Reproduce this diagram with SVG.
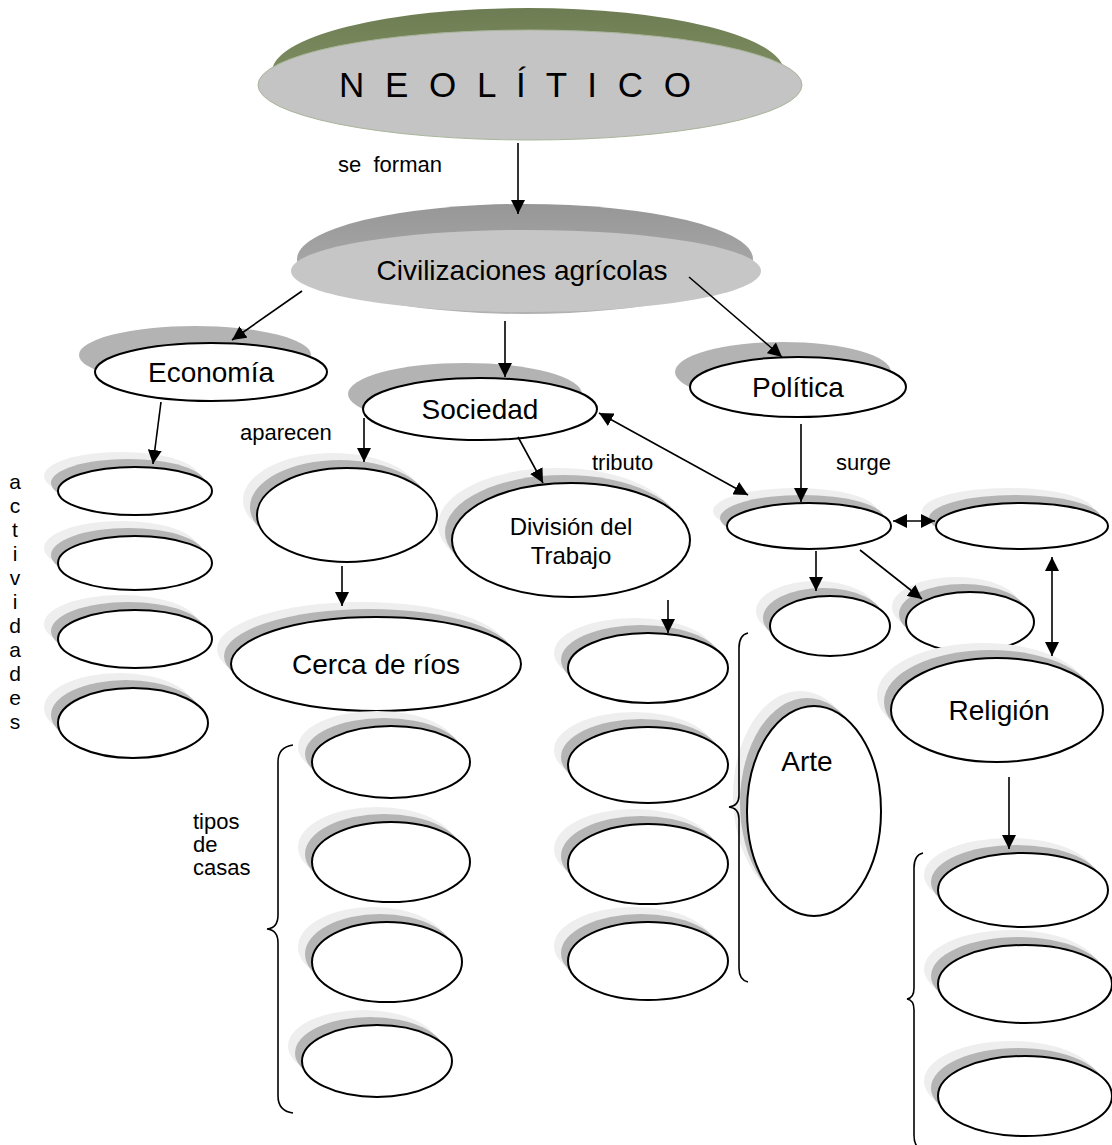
<svg xmlns="http://www.w3.org/2000/svg" width="1112" height="1145" viewBox="0 0 1112 1145">
<defs>
  <marker id="ah" viewBox="0 0 12 12" refX="12" refY="6" markerWidth="14" markerHeight="14" markerUnits="userSpaceOnUse" orient="auto-start-reverse">
    <path d="M0,0 L12,6 L0,12 z" fill="#000"/>
  </marker>
  <linearGradient id="gGreen" x1="0" y1="0" x2="0" y2="1">
    <stop offset="0" stop-color="#6d7c52"/>
    <stop offset="1" stop-color="#8e9d6e"/>
  </linearGradient>
  <linearGradient id="gGray" x1="0" y1="0" x2="0" y2="1">
    <stop offset="0" stop-color="#979797"/>
    <stop offset="1" stop-color="#b2b2b2"/>
  </linearGradient>
</defs>
<style>
  text{font-family:"Liberation Sans",Arial,sans-serif;fill:#000}
  .n{fill:#fff;stroke:#000;stroke-width:2}
  .sl{fill:#eeeeee}
  .sd{fill:#b5b5b5}
  .sh{fill:#b3b3b3}
  .t28{font-size:28px;text-anchor:middle}
  .lbl{font-size:22px}
  .act{font-size:21px;text-anchor:middle}
  #connectors line,#connectors path{stroke:#000;stroke-width:1.6;fill:none}
  .brace{stroke:#000;stroke-width:1.6;fill:none}
</style>

<g id="neolitico">
  <ellipse cx="528" cy="72" rx="256" ry="64" fill="url(#gGreen)"/>
  <ellipse cx="530" cy="85" rx="272" ry="55" fill="#c4c4c4" stroke="#a9b59a" stroke-width="1"/>
  <text x="515" y="97" font-size="35" text-anchor="middle" textLength="352" lengthAdjust="spacing">N E O L Í T I C O</text>
</g>

<g id="civilizaciones">
  <ellipse cx="525" cy="259" rx="228" ry="55" fill="url(#gGray)"/>
  <ellipse cx="526" cy="271" rx="235" ry="41" fill="#c6c6c6"/>
  <text x="522" y="280" class="t28">Civilizaciones agrícolas</text>
</g>

<g id="economia">
  <ellipse cx="195" cy="355" rx="116" ry="29" class="sh"/>
  <ellipse cx="211" cy="372" rx="116" ry="29" class="n"/>
  <text x="211" y="382" class="t28">Economía</text>
</g>
<g id="sociedad">
  <ellipse cx="465" cy="394" rx="117" ry="31" class="sh"/>
  <ellipse cx="480" cy="409" rx="117" ry="31" class="n"/>
  <text x="480" y="419" class="t28">Sociedad</text>
</g>
<g id="politica">
  <ellipse cx="783" cy="372" rx="108" ry="30" class="sh"/>
  <ellipse cx="798" cy="387" rx="108" ry="30" class="n"/>
  <text x="798" y="397" class="t28">Política</text>
</g>

<g id="act1"><ellipse cx="121" cy="476" rx="77" ry="24" class="sl"/><ellipse cx="128" cy="483" rx="77" ry="24" class="sd"/><ellipse cx="135" cy="491" rx="77" ry="24" class="n"/></g>
<g id="act2"><ellipse cx="121" cy="548" rx="77" ry="27" class="sl"/><ellipse cx="128" cy="555" rx="77" ry="27" class="sd"/><ellipse cx="135" cy="563" rx="77" ry="27" class="n"/></g>
<g id="act3"><ellipse cx="121" cy="624" rx="77" ry="29" class="sl"/><ellipse cx="128" cy="631" rx="77" ry="29" class="sd"/><ellipse cx="135" cy="639" rx="77" ry="29" class="n"/></g>
<g id="act4"><ellipse cx="119" cy="708" rx="75" ry="35" class="sl"/><ellipse cx="126" cy="715" rx="75" ry="35" class="sd"/><ellipse cx="133" cy="723" rx="75" ry="35" class="n"/></g>

<g id="aparecen-node"><ellipse cx="333" cy="500" rx="90" ry="47" class="sl"/><ellipse cx="340" cy="507" rx="90" ry="47" class="sd"/><ellipse cx="347" cy="515" rx="90" ry="47" class="n"/></g>
<g id="cerca">
  <ellipse cx="362" cy="649" rx="145" ry="47" class="sl"/><ellipse cx="369" cy="656" rx="145" ry="47" class="sd"/><ellipse cx="376" cy="664" rx="145" ry="47" class="n"/>
  <text x="376" y="674" class="t28">Cerca de ríos</text>
</g>
<g id="division">
  <ellipse cx="557" cy="525" rx="119" ry="57" class="sl"/><ellipse cx="564" cy="532" rx="119" ry="57" class="sd"/><ellipse cx="571" cy="540" rx="119" ry="57" class="n"/>
  <text x="571" y="535" font-size="24" text-anchor="middle">División del</text>
  <text x="571" y="564" font-size="24" text-anchor="middle">Trabajo</text>
</g>

<g id="trab1"><ellipse cx="634" cy="653" rx="80" ry="35" class="sl"/><ellipse cx="641" cy="660" rx="80" ry="35" class="sd"/><ellipse cx="648" cy="668" rx="80" ry="35" class="n"/></g>
<g id="trab2"><ellipse cx="634" cy="750" rx="80" ry="38" class="sl"/><ellipse cx="641" cy="757" rx="80" ry="38" class="sd"/><ellipse cx="648" cy="765" rx="80" ry="38" class="n"/></g>
<g id="trab3"><ellipse cx="634" cy="849" rx="80" ry="40" class="sl"/><ellipse cx="641" cy="856" rx="80" ry="40" class="sd"/><ellipse cx="648" cy="864" rx="80" ry="40" class="n"/></g>
<g id="trab4"><ellipse cx="634" cy="946" rx="80" ry="39" class="sl"/><ellipse cx="641" cy="953" rx="80" ry="39" class="sd"/><ellipse cx="648" cy="961" rx="80" ry="39" class="n"/></g>

<g id="arte">
  <ellipse cx="800" cy="796" rx="67" ry="105" class="sl"/><ellipse cx="807" cy="803" rx="67" ry="105" class="sd"/><ellipse cx="814" cy="811" rx="67" ry="105" class="n"/>
  <text x="807" y="771" class="t28">Arte</text>
</g>

<g id="surge-node"><ellipse cx="795" cy="511" rx="82" ry="23" class="sl"/><ellipse cx="802" cy="518" rx="82" ry="23" class="sd"/><ellipse cx="809" cy="526" rx="82" ry="23" class="n"/></g>
<g id="pol-right"><ellipse cx="1008" cy="511" rx="86" ry="23" class="sl"/><ellipse cx="1015" cy="518" rx="86" ry="23" class="sd"/><ellipse cx="1022" cy="526" rx="86" ry="23" class="n"/></g>
<g id="pol-sub1"><ellipse cx="816" cy="611" rx="60" ry="30" class="sl"/><ellipse cx="823" cy="618" rx="60" ry="30" class="sd"/><ellipse cx="830" cy="626" rx="60" ry="30" class="n"/></g>
<g id="pol-sub2"><ellipse cx="956" cy="607" rx="64" ry="30" class="sl"/><ellipse cx="963" cy="614" rx="64" ry="30" class="sd"/><ellipse cx="970" cy="622" rx="64" ry="30" class="n"/></g>

<g id="religion">
  <ellipse cx="983" cy="695" rx="106" ry="52" class="sl"/><ellipse cx="990" cy="702" rx="106" ry="52" class="sd"/><ellipse cx="997" cy="710" rx="106" ry="52" class="n"/>
  <text x="999" y="720" class="t28">Religión</text>
</g>
<g id="rel1"><ellipse cx="1009" cy="875" rx="85" ry="37" class="sl"/><ellipse cx="1016" cy="882" rx="85" ry="37" class="sd"/><ellipse cx="1023" cy="890" rx="85" ry="37" class="n"/></g>
<g id="rel2"><ellipse cx="1011" cy="969" rx="87" ry="39" class="sl"/><ellipse cx="1018" cy="976" rx="87" ry="39" class="sd"/><ellipse cx="1025" cy="984" rx="87" ry="39" class="n"/></g>
<g id="rel3"><ellipse cx="1011" cy="1081" rx="87" ry="40" class="sl"/><ellipse cx="1018" cy="1088" rx="87" ry="40" class="sd"/><ellipse cx="1025" cy="1096" rx="87" ry="40" class="n"/></g>

<g id="casa1"><ellipse cx="377" cy="747" rx="79" ry="36" class="sl"/><ellipse cx="384" cy="754" rx="79" ry="36" class="sd"/><ellipse cx="391" cy="762" rx="79" ry="36" class="n"/></g>
<g id="casa2"><ellipse cx="377" cy="847" rx="79" ry="40" class="sl"/><ellipse cx="384" cy="854" rx="79" ry="40" class="sd"/><ellipse cx="391" cy="862" rx="79" ry="40" class="n"/></g>
<g id="casa3"><ellipse cx="373" cy="947" rx="75" ry="40" class="sl"/><ellipse cx="380" cy="954" rx="75" ry="40" class="sd"/><ellipse cx="387" cy="962" rx="75" ry="40" class="n"/></g>
<g id="casa4"><ellipse cx="363" cy="1046" rx="75" ry="36" class="sl"/><ellipse cx="370" cy="1053" rx="75" ry="36" class="sd"/><ellipse cx="377" cy="1061" rx="75" ry="36" class="n"/></g>

<g id="labels">
  <text x="338" y="172" class="lbl" style="white-space:pre">se  forman</text>
  <text x="240" y="440" class="lbl">aparecen</text>
  <text x="592" y="470" class="lbl">tributo</text>
  <text x="836" y="470" class="lbl">surge</text>
  <text x="193" y="829" class="lbl">tipos</text>
  <text x="193" y="852" class="lbl">de</text>
  <text x="193" y="875" class="lbl">casas</text>
  <g class="act">
    <text x="15" y="489">a</text>
    <text x="15" y="513">c</text>
    <text x="15" y="537">t</text>
    <text x="15" y="561">i</text>
    <text x="15" y="585">v</text>
    <text x="15" y="609">i</text>
    <text x="15" y="633">d</text>
    <text x="15" y="657">a</text>
    <text x="15" y="681">d</text>
    <text x="15" y="705">e</text>
    <text x="15" y="729">s</text>
  </g>
</g>

<g id="braces">
  <path class="brace" d="M293,745 Q278,747 278,762 L278,915 Q278,928 267,929 Q278,930 278,943 L278,1096 Q278,1111 293,1113"/>
  <path class="brace" d="M748,633 Q739,635 739,648 L739,795 Q739,806 729,807 Q739,808 739,819 L739,968 Q739,980 748,982"/>
  <path class="brace" d="M923,853 Q914,855 914,868 L914,988 Q914,998 907,999 Q914,1000 914,1010 L914,1135 Q914,1148 923,1150"/>
</g>

<g id="connectors">
  <line x1="518" y1="143" x2="518" y2="214" marker-end="url(#ah)"/>
  <line x1="302" y1="291" x2="232" y2="340" marker-end="url(#ah)"/>
  <line x1="505" y1="321" x2="505" y2="377" marker-end="url(#ah)"/>
  <line x1="689" y1="277" x2="782" y2="357" marker-end="url(#ah)"/>
  <line x1="161" y1="402" x2="153" y2="464" marker-end="url(#ah)"/>
  <line x1="364" y1="418" x2="364" y2="462" marker-end="url(#ah)"/>
  <line x1="342" y1="566" x2="342" y2="606" marker-end="url(#ah)"/>
  <line x1="518" y1="437" x2="543" y2="483" marker-end="url(#ah)"/>
  <line x1="668" y1="600" x2="668" y2="633" marker-end="url(#ah)"/>
  <line x1="599" y1="413" x2="748" y2="495" marker-start="url(#ah)" marker-end="url(#ah)"/>
  <line x1="801" y1="424" x2="801" y2="502" marker-end="url(#ah)"/>
  <line x1="893" y1="521" x2="935" y2="521" marker-start="url(#ah)" marker-end="url(#ah)"/>
  <line x1="816" y1="551" x2="816" y2="591" marker-end="url(#ah)"/>
  <line x1="860" y1="550" x2="922" y2="599" marker-end="url(#ah)"/>
  <line x1="1052" y1="557" x2="1052" y2="656" marker-start="url(#ah)" marker-end="url(#ah)"/>
  <line x1="1009" y1="777" x2="1009" y2="849" marker-end="url(#ah)"/>
</g>
</svg>
